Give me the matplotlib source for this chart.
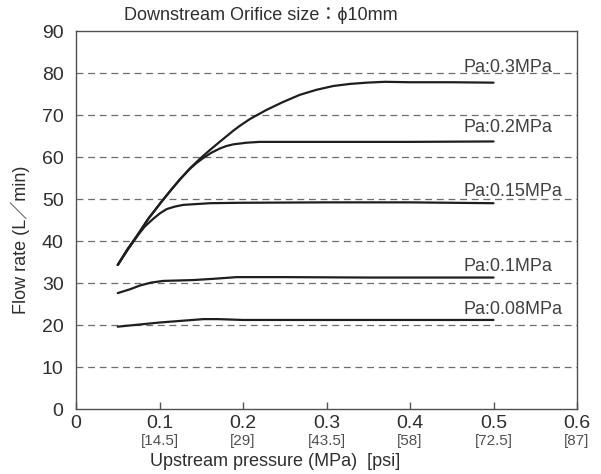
import matplotlib.pyplot as plt
import matplotlib.transforms as mtransforms

plt.rcParams['font.family'] = ['Liberation Sans', 'DejaVu Sans', 'Noto Sans CJK JP']

# upstream pressure (MPa) / flow rate (L/min) for each Pa curve
p_03 = [0.05, 0.0616, 0.0726, 0.0866, 0.1026, 0.1136, 0.1246, 0.1365, 0.1485, 0.16, 0.172, 0.188, 0.196, 0.208,
        0.228, 0.248, 0.268, 0.288, 0.308, 0.328, 0.348, 0.37, 0.4, 0.45, 0.5]
q_03 = [34.3, 38.0, 41.1, 45.3, 49.4, 52.1, 54.7, 57.3, 59.6, 61.6, 63.6, 66.2, 67.4, 69.0,
        71.2, 73.1, 74.8, 76.0, 76.9, 77.4, 77.7, 77.9, 77.8, 77.8, 77.7]

p_02 = [0.05, 0.0616, 0.0726, 0.0866, 0.1026, 0.1136, 0.1246, 0.1365, 0.1445, 0.152, 0.162, 0.172, 0.18, 0.188,
        0.204, 0.22, 0.3, 0.4, 0.5]
q_02 = [34.3, 38.0, 41.1, 45.3, 49.4, 52.1, 54.7, 57.2, 58.6, 59.7, 61.0, 62.0, 62.6, 63.0,
        63.4, 63.6, 63.6, 63.6, 63.7]

p_015 = [0.05, 0.0626, 0.0746, 0.0826, 0.0926, 0.1006, 0.1086, 0.1185, 0.1285, 0.1605, 0.196, 0.3, 0.4, 0.5]
q_015 = [34.3, 38.1, 41.5, 43.5, 45.3, 46.6, 47.6, 48.2, 48.6, 49.0, 49.1, 49.2, 49.2, 49.0]

p_01 = [0.05, 0.0646, 0.0766, 0.09, 0.1046, 0.1405, 0.165, 0.1925, 0.25, 0.35, 0.5]
q_01 = [27.6, 28.5, 29.4, 30.1, 30.5, 30.7, 31.0, 31.4, 31.4, 31.3, 31.3]

p_008 = [0.05, 0.1006, 0.1525, 0.17, 0.2, 0.3, 0.5]
q_008 = [19.6, 20.6, 21.4, 21.4, 21.2, 21.2, 21.2]

curve_labels = ['Pa:0.3MPa', 'Pa:0.2MPa', 'Pa:0.15MPa', 'Pa:0.1MPa', 'Pa:0.08MPa']
label_y = [81.2, 67.1, 51.7, 34.0, 23.8]

x_ticks = [0, 0.1, 0.2, 0.3, 0.4, 0.5, 0.6]
x_tick_labels = ['0', '0.1', '0.2', '0.3', '0.4', '0.5', '0.6']
psi_labels = ['', '[14.5]', '[29]', '[43.5]', '[58]', '[72.5]', '[87]']
y_ticks = [0, 10, 20, 30, 40, 50, 60, 70, 80, 90]

text_col = '#2e2e2e'
line_col = '#1e1e1e'

fig = plt.figure(figsize=(6.01, 4.74), dpi=100)
ax = fig.add_axes([76 / 601, 1 - 409 / 474, 501 / 601, 378 / 474])

for y in y_ticks[1:-1]:
    ax.axhline(y, color='#6e6e6e', lw=0.9, ls=(0, (5.5, 3.8)), zorder=1)

curves = [(p_03, q_03), (p_02, q_02), (p_015, q_015), (p_01, q_01), (p_008, q_008)]
for p, q in curves:
    ax.plot(p, q, color=line_col, lw=1.6, solid_capstyle='round', solid_joinstyle='round', zorder=3)

for lab, y in zip(curve_labels, label_y):
    ax.text(0.4635, y, lab, fontsize=13, color='#404040', va='center', ha='left', zorder=2)

ax.set_xlim(0, 0.6)
ax.set_ylim(0, 90)
ax.set_xticks(x_ticks)
ax.set_xticklabels(x_tick_labels, fontsize=14, color=text_col)
ax.set_yticks(y_ticks)
ax.set_yticklabels([str(v) for v in y_ticks], fontsize=14, color=text_col)
ax.tick_params(axis='x', direction='in', length=5, width=1, color='#555555', pad=4)
ax.tick_params(axis='y', length=0, pad=9)
for s in ax.spines.values():
    s.set_color('#505050')
    s.set_linewidth(1.0)

# psi values under the MPa tick labels
trans = mtransforms.blended_transform_factory(ax.transData, ax.transAxes)
for x, lab in zip(x_ticks, psi_labels):
    ax.text(x, -32 / 378, lab, transform=trans, fontsize=11, color='#505050', ha='center', va='center')

fig.text(275 / 601, 1 - 461 / 474, 'Upstream pressure (MPa)  [psi]',
         fontsize=13, color=text_col, ha='center', va='center')
fig.text(20 / 601, 1 - 240 / 474, 'Flow rate (L／min)', rotation=90, fontsize=13,
         color=text_col, ha='center', va='center')
fig.text(261 / 601, 1 - 15 / 474, 'Downstream Orifice size：ϕ10mm', fontsize=13,
         color=text_col, ha='center', va='center')

fig.savefig('out.png', dpi=100)
